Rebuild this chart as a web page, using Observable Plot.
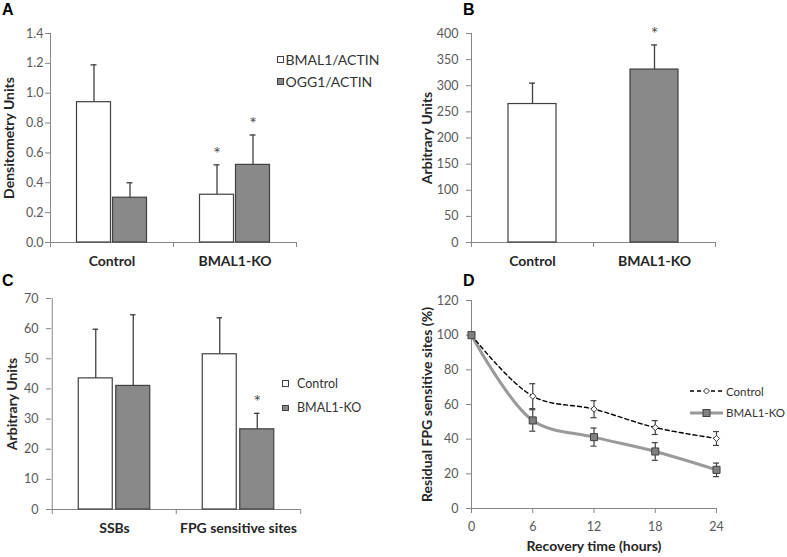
<!DOCTYPE html>
<html>
<head>
<meta charset="utf-8">
<script src="https://cdn.jsdelivr.net/npm/d3@7"></script>
<script src="https://cdn.jsdelivr.net/npm/@observablehq/plot@0.6"></script>
<style>
  body { margin: 0; background: #fff; font-family: Lato, "Open Sans", sans-serif; }
  #fig { position: relative; width: 787px; height: 557px; overflow: hidden; background: #fff; }
  .panel { position: absolute; }
  .letter { position: absolute; font: bold 16px "Liberation Sans", Arial, sans-serif; color: #000; line-height: 1.2; }
  .legend-item { position: absolute; height: 16px; display: flex; align-items: center; white-space: nowrap;
                 font: 12.5px Lato, sans-serif; color: #333; }
  .sw { display: inline-block; box-sizing: border-box; border: 1px solid #404040; }
</style>
</head>
<body>
<div id="fig"></div>
<script>
// ---------------- Data ----------------
// Panel A
const groupsA = ["Control", "BMAL1-KO"];
const seriesA = ["BMAL1/ACTIN", "OGG1/ACTIN"];
const bmal1A = [0.94, 0.32];
const bmal1ErrA = [0.25, 0.20];
const ogg1A = [0.30, 0.52];
const ogg1ErrA = [0.10, 0.20];
const sigBmal1A = [false, true];
const sigOgg1A = [false, true];
const ticksA = [0, 0.2, 0.4, 0.6, 0.8, 1.0, 1.2, 1.4];
const yTitleA = "Densitometry Units";

// Panel B
const groupsB = ["Control", "BMAL1-KO"];
const valuesB = [265, 331];
const errB = [40, 47];
const sigB = [false, true];
const ticksB = [0, 50, 100, 150, 200, 250, 300, 350, 400];
const yTitleB = "Arbitrary Units";

// Panel C
const groupsC = ["SSBs", "FPG sensitive sites"];
const seriesC = ["Control", "BMAL1-KO"];
const controlC = [43.5, 51.5];
const controlErrC = [16.3, 12.1];
const koC = [41.0, 26.6];
const koErrC = [23.6, 5.3];
const sigControlC = [false, false];
const sigKoC = [false, true];
const ticksC = [0, 10, 20, 30, 40, 50, 60, 70];
const yTitleC = "Arbitrary Units";

// Panel D
const timesD = [0, 6, 12, 18, 24];
const seriesD = ["Control", "BMAL1-KO"];
const controlD = [100, 64.8, 57.3, 46.7, 40.4];
const controlErrD = [0, 7.2, 4.9, 4.0, 4.0];
const koD = [100, 50.8, 41.2, 32.9, 22.3];
const koErrD = [0, 6.2, 5.2, 5.1, 3.9];
const ticksDx = [0, 6, 12, 18, 24];
const ticksDy = [0, 20, 40, 60, 80, 100, 120];
const xTitleD = "Recovery time (hours)";
const yTitleD = "Residual FPG sensitive sites (%)";

const panelLetters = ["A", "B", "C", "D"];

// ---------------- Styles ----------------
const AXIS = "#868686";
const TICKTEXT = "#595959";
const TITLE = "#262626";
const BAR_STROKE = "#404040";
const WHITE = "#ffffff";
const GRAY = "#898989";
const ERR = "#404040";
const FONT = "Lato, 'Open Sans', sans-serif";

const fig = document.getElementById("fig");

function place(el, left, top) {
  const d = document.createElement("div");
  d.className = "panel";
  d.style.left = left + "px";
  d.style.top = top + "px";
  d.appendChild(el);
  fig.appendChild(d);
}

function barPanel(o) {
  const {groups, series, width, height, ml, mr, mt, mb, yDomain, yTicks, yFormat,
         yTitle, titleX, tickPadding, barW, gap} = o;
  const bw = (width - ml - mr) / groups.length;
  const n = series.length;
  const outer = (bw - n * barW - (n - 1) * gap) / 2;
  const marks = [];
  // axis lines and boundary ticks
  marks.push(Plot.ruleX([groups[0]], {x: d => d, dx: -bw / 2, stroke: AXIS}));
  marks.push(Plot.ruleY([yDomain[0]], {stroke: AXIS}));
  marks.push(Plot.ruleX(groups, {x: d => d, y1: yDomain[0], y2: yDomain[0], dx: -bw / 2, insetTop: 0, insetBottom: -5, stroke: AXIS}));
  marks.push(Plot.ruleX([groups[groups.length - 1]], {x: d => d, y1: yDomain[0], y2: yDomain[0], dx: bw / 2, insetTop: 0, insetBottom: -5, stroke: AXIS}));
  marks.push(Plot.axisY({ticks: yTicks, tickFormat: yFormat, tickSize: 5, tickPadding,
    stroke: AXIS, fill: TICKTEXT, fontSize: 12.5, label: null}));
  marks.push(Plot.axisX({tickSize: 0, tickPadding: 14, fill: TITLE, fontSize: 14, fontWeight: "bold", label: null}));
  series.forEach((s, k) => {
    const left = outer + k * (barW + gap);
    const right = bw - left - barW;
    const dxc = left + barW / 2 - bw / 2;
    const rows = groups.map((g, i) => ({g, v: s.values[i], top: s.values[i] + s.errs[i], sig: s.sig[i],
      fill: Array.isArray(s.fill) ? s.fill[i] : s.fill}));
    marks.push(Plot.ruleX(rows, {x: "g", y1: "v", y2: "top", dx: dxc, stroke: ERR, strokeWidth: 1.3}));
    marks.push(Plot.tickY(rows, {x: "g", y: "top", insetLeft: left + barW / 2 - 3, insetRight: right + barW / 2 - 3, stroke: ERR, strokeWidth: 1.3}));
    marks.push(Plot.barY(rows, {x: "g", y: "v", fill: "fill", stroke: BAR_STROKE, strokeWidth: 1.2, insetLeft: left, insetRight: right}));
    marks.push(Plot.text(rows.filter(d => d.sig), {x: "g", y: "top", dx: dxc, dy: -11, text: () => "*",
      fontSize: 18, fill: "#4d4d4d", lineAnchor: "middle"}));
  });
  marks.push(Plot.text([yTitle], {frameAnchor: "left", dx: titleX - ml, rotate: -90, text: d => d,
    fontSize: 14, fontWeight: "bold", fill: TITLE, lineAnchor: "middle", textAnchor: "middle"}));
  return Plot.plot({
    width, height, marginLeft: ml, marginRight: mr, marginTop: mt, marginBottom: mb,
    x: {type: "band", domain: groups, padding: 0},
    y: {domain: yDomain},
    color: {type: "identity"},
    style: {fontFamily: FONT, background: "transparent", overflow: "visible"},
    marks
  });
}

// Panel A
place(barPanel({
  groups: groupsA,
  series: [
    {name: seriesA[0], values: bmal1A, errs: bmal1ErrA, sig: sigBmal1A, fill: WHITE},
    {name: seriesA[1], values: ogg1A, errs: ogg1ErrA, sig: sigOgg1A, fill: GRAY}
  ],
  width: 390, height: 280, ml: 50, mr: 94, mt: 33, mb: 38,
  yDomain: [0, 1.4], yTicks: ticksA, yFormat: d3.format(".1f"),
  yTitle: yTitleA, titleX: 9, tickPadding: 2, barW: 34, gap: 2
}), 0, 0);

// Panel B
place(barPanel({
  groups: groupsB,
  series: [
    {name: "B", values: valuesB, errs: errB, sig: sigB, fill: [WHITE, GRAY]}
  ],
  width: 397, height: 280, ml: 81, mr: 72, mt: 33, mb: 38,
  yDomain: [0, 400], yTicks: ticksB, yFormat: d3.format("d"),
  yTitle: yTitleB, titleX: 37, tickPadding: 8, barW: 48, gap: 0
}), 390, 0);

// Panel C
place(barPanel({
  groups: groupsC,
  series: [
    {name: seriesC[0], values: controlC, errs: controlErrC, sig: sigControlC, fill: WHITE},
    {name: seriesC[1], values: koC, errs: koErrC, sig: sigKoC, fill: GRAY}
  ],
  width: 390, height: 280, ml: 51, mr: 90, mt: 21, mb: 48,
  yDomain: [0, 70], yTicks: ticksC, yFormat: d3.format("d"),
  yTitle: yTitleC, titleX: 12, tickPadding: 8, barW: 34.5, gap: 3
}), 0, 277);

// Panel D
(function () {
  const ctrl = timesD.map((t, i) => ({t, v: controlD[i], lo: controlD[i] - controlErrD[i], hi: controlD[i] + controlErrD[i], e: controlErrD[i]}));
  const ko = timesD.map((t, i) => ({t, v: koD[i], lo: koD[i] - koErrD[i], hi: koD[i] + koErrD[i], e: koErrD[i]}));
  const errRows = [...ctrl, ...ko].filter(d => d.e > 0);
  const ml = 81;
  const plot = Plot.plot({
    width: 397, height: 280, marginLeft: ml, marginRight: 71, marginTop: 23, marginBottom: 49,
    x: {domain: [0, 24]},
    y: {domain: [0, 120]},
    style: {fontFamily: FONT, background: "transparent", overflow: "visible"},
    marks: [
      Plot.ruleX([0], {stroke: AXIS}),
      Plot.ruleY([0], {stroke: AXIS}),
      Plot.axisY({ticks: ticksDy, tickSize: 5, tickPadding: 8, stroke: AXIS, fill: TICKTEXT, fontSize: 12.5, label: null}),
      Plot.axisX({ticks: ticksDx, tickSize: 5, tickPadding: 9, stroke: AXIS, fill: TICKTEXT, fontSize: 12.5, label: null}),
      Plot.line(ko, {x: "t", y: "v", curve: "catmull-rom", stroke: "#9a9a9a", strokeWidth: 3}),
      Plot.line(ctrl, {x: "t", y: "v", curve: "catmull-rom", stroke: "#000", strokeWidth: 1.4, strokeDasharray: "4,3"}),
      Plot.ruleX(errRows, {x: "t", y1: "lo", y2: "hi", stroke: ERR, strokeWidth: 1.2}),
      Plot.ruleY(errRows, {y: "hi", x1: "t", x2: "t", insetLeft: -3, insetRight: -3, stroke: ERR, strokeWidth: 1.2}),
      Plot.ruleY(errRows, {y: "lo", x1: "t", x2: "t", insetLeft: -3, insetRight: -3, stroke: ERR, strokeWidth: 1.2}),
      Plot.dot(ctrl, {x: "t", y: "v", symbol: "diamond2", r: 2.8, fill: "#fff", stroke: "#333", strokeWidth: 1}),
      Plot.dot(ko, {x: "t", y: "v", symbol: "square", r: 4, fill: "#808080", stroke: "#404040", strokeWidth: 1}),
      Plot.text([yTitleD], {frameAnchor: "left", dx: 37 - ml, rotate: -90, text: d => d,
        fontSize: 14, fontWeight: "bold", fill: TITLE, lineAnchor: "middle", textAnchor: "middle"}),
      Plot.text([xTitleD], {frameAnchor: "bottom", dy: 38, text: d => d,
        fontSize: 14, fontWeight: "bold", fill: TITLE, lineAnchor: "middle", textAnchor: "middle"})
    ]
  });
  place(plot, 390, 277);
})();

// ---------------- Panel letters ----------------
const letterPos = [[2, 0], [463, 0], [2, 271], [463, 271]];
panelLetters.forEach((L, i) => {
  const d = document.createElement("div");
  d.className = "letter";
  d.textContent = L;
  d.style.left = letterPos[i][0] + "px";
  d.style.top = letterPos[i][1] + "px";
  fig.appendChild(d);
});

// ---------------- Legends ----------------
function boxLegend(names, fills, left, centerY, spacing, size, gap, fontSize) {
  names.forEach((name, i) => {
    const item = document.createElement("div");
    item.className = "legend-item";
    item.style.left = left + "px";
    item.style.top = (centerY + i * spacing - 8) + "px";
    item.style.fontSize = fontSize + "px";
    const sw = document.createElement("span");
    sw.className = "sw";
    sw.style.width = size + "px";
    sw.style.height = size + "px";
    sw.style.background = fills[i];
    sw.style.marginRight = gap + "px";
    item.appendChild(sw);
    item.appendChild(document.createTextNode(name));
    fig.appendChild(item);
  });
}
boxLegend(seriesA, [WHITE, GRAY], 277, 59.5, 22.3, 7, 1.5, 14);
boxLegend(seriesC, [WHITE, GRAY], 282, 383.5, 24.3, 6.5, 8.5, 12.5);

// Panel D legend (line + marker)
seriesD.forEach((name, i) => {
  const item = document.createElement("div");
  item.className = "legend-item";
  item.style.left = "690px";
  item.style.top = (391 + i * 21.5 - 8) + "px";
  item.style.fontSize = "11.5px";
  const svg = i === 0
    ? `<svg width="33" height="12" style="margin-right:3px"><line x1="0" y1="6" x2="33" y2="6" stroke="#000" stroke-width="1.4" stroke-dasharray="4,3"/><path d="M16.5,3L19.5,6L16.5,9L13.5,6Z" fill="#fff" stroke="#333"/></svg>`
    : `<svg width="33" height="12" style="margin-right:3px"><line x1="0" y1="6" x2="33" y2="6" stroke="#9a9a9a" stroke-width="3"/><rect x="13" y="2.5" width="7" height="7" fill="#808080" stroke="#404040"/></svg>`;
  item.innerHTML = svg;
  item.appendChild(document.createTextNode(name));
  fig.appendChild(item);
});
</script>
</body>
</html>
